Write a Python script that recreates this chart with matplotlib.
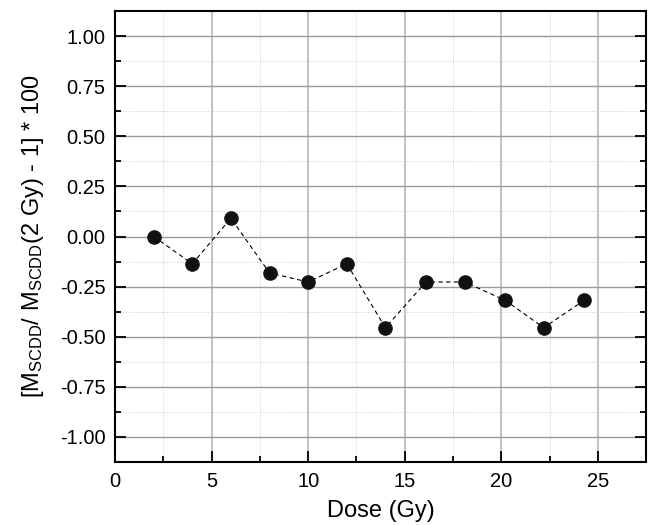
import numpy as np
import matplotlib
matplotlib.use("Agg")
import matplotlib.pyplot as plt
from matplotlib.ticker import MultipleLocator, FuncFormatter

plt.rcParams['font.family'] = ['Liberation Sans', 'DejaVu Sans']
plt.rcParams['mathtext.default'] = 'regular'
plt.rcParams['axes.unicode_minus'] = False

# data
dose = [2.0, 4.0, 6.0, 8.0, 10.0, 12.0, 14.0, 16.1, 18.1, 20.2, 22.2, 24.3]
dev = [0.0, -0.136, 0.091, -0.182, -0.227, -0.136, -0.455, -0.227, -0.227, -0.318, -0.455, -0.318]

fig = plt.figure(figsize=(6.5, 5.25), dpi=100)
ax = fig.add_axes([0.177, 0.12, 0.817, 0.859])

ax.plot(dose, dev, linestyle=(0, (4, 3)), color='black', linewidth=0.8, zorder=3)
ax.plot(dose, dev, 'o', color='#111111', markersize=9.5, zorder=4)

ax.set_xlim(0, 27.5)
ax.set_ylim(-1.125, 1.125)
ax.xaxis.set_major_locator(MultipleLocator(5))
ax.xaxis.set_minor_locator(MultipleLocator(2.5))
ax.yaxis.set_major_locator(MultipleLocator(0.25))
ax.yaxis.set_minor_locator(MultipleLocator(0.125))
ax.yaxis.set_major_formatter(FuncFormatter(lambda v, p: '{:.2f}'.format(v)))

# vertical grid lighter and wider, horizontal darker
ax.xaxis.grid(True, which='major', color='#c4c4c4', linewidth=1.5, linestyle='-')
ax.yaxis.grid(True, which='major', color='#9a9a9a', linewidth=1.0, linestyle='-')
ax.grid(which='minor', color='#cccccc', linewidth=0.7, linestyle=':')
ax.set_axisbelow(True)

ax.tick_params(which='both', direction='in', right=True, top=False,
               labelsize=14.5, width=1.3, colors='black')
ax.tick_params(which='major', length=8, pad=7)
ax.tick_params(which='minor', length=4)
for s in ax.spines.values():
    s.set_linewidth(1.5)

ax.set_xlabel('Dose (Gy)', fontsize=17, labelpad=7)
ax.set_ylabel('[M$_{SCDD}$/ M$_{SCDD}$(2 Gy) - 1] * 100', fontsize=17)
ax.yaxis.set_label_coords(-0.13, 0.5)

fig.savefig('out.png', dpi=100)
